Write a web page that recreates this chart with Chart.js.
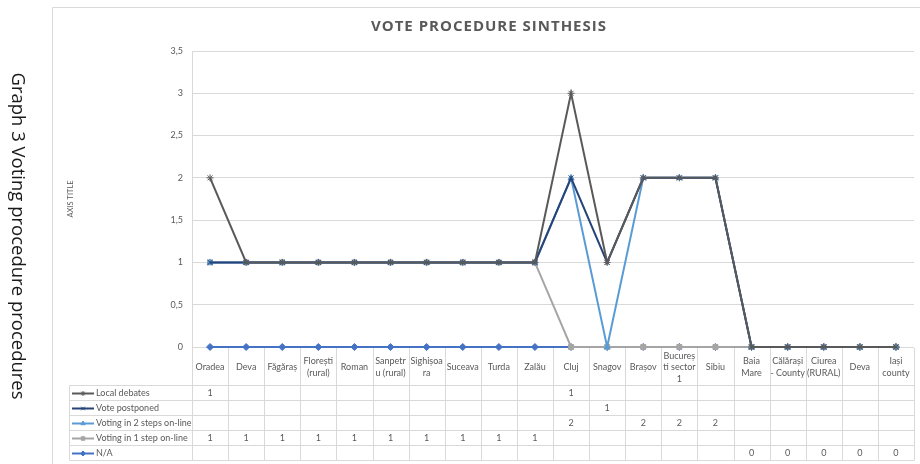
<!DOCTYPE html>
<html><head><meta charset="utf-8">
<script src="https://cdn.jsdelivr.net/npm/chart.js@4.4.1/dist/chart.umd.min.js"></script>
<style>html,body{margin:0;padding:0;background:#fff}#wrap{width:920px;height:464px;position:relative}</style>
</head><body><div id="wrap"><canvas id="c" width="920" height="464"></canvas></div>
<script>
// ---- data ----
const categories = [["Oradea"],["Deva"],["Făgăraș"],["Florești","(rural)"],["Roman"],["Sanpetr","u (rural)"],["Sighișoa","ra"],["Suceava"],["Turda"],["Zalău"],["Cluj"],["Snagov"],["Brașov"],["Bucureș","ti sector","1"],["Sibiu"],["Baia","Mare"],["Călărași","- County"],["Ciurea","(RURAL)"],["Deva"],["Iași","county"]];
const localDebates    = [1,null,null,null,null,null,null,null,null,null,1,null,null,null,null,null,null,null,null,null];
const votePostponed   = [null,null,null,null,null,null,null,null,null,null,null,1,null,null,null,null,null,null,null,null];
const voting2Steps    = [null,null,null,null,null,null,null,null,null,null,2,null,2,2,2,null,null,null,null,null];
const voting1Step     = [1,1,1,1,1,1,1,1,1,1,null,null,null,null,null,null,null,null,null,null];
const notAvailable    = [null,null,null,null,null,null,null,null,null,null,null,null,null,null,null,0,0,0,0,0];
const yTickLabels     = ["0","0,5","1","1,5","2","2,5","3","3,5"];
const chartTitle = "VOTE PROCEDURE SINTHESIS";
const sideCaption = "Graph 3 Voting procedure procedures";
const axisTitle = "AXIS TITLE";

// series in table order (top to bottom); stacked in reverse (last is bottom of stack)
const tableSeries = [
  {label:"Local debates", values: localDebates, color:"#595959", style:"star"},
  {label:"Vote postponed", values: votePostponed, color:"#264478", style:"crossRot"},
  {label:"Voting in 2 steps on-line", values: voting2Steps, color:"#5B9BD5", style:"triangle"},
  {label:"Voting in 1 step on-line", values: voting1Step, color:"#A5A5A5", style:"rect"},
  {label:"N/A", values: notAvailable, color:"#4472C4", style:"rectRot"}
];
const stackSeries = tableSeries.slice().reverse();

const FONT = "Lato";
const TXT = "#595959";
const GRID = "#D9D9D9";

const forwardDraw = {
  id: 'forwardDraw',
  beforeDatasetsDraw(chart) {
    const metas = chart.getSortedVisibleDatasetMetas();
    for (const m of metas) chart._drawDataset(m);
    return false;
  }
};

const decor = {
  id: 'decor',
  afterDraw(chart) {
    const ctx = chart.ctx;
    const area = chart.chartArea;
    const n = categories.length;
    const cw = (area.right - area.left) / n;
    const tableLeft = 69.5;
    const headerBottom = 385.5;
    const rowH = 15;
    const tableBottom = headerBottom + rowH * tableSeries.length;
    ctx.save();
    // frame
    ctx.strokeStyle = GRID; ctx.lineWidth = 1;
    ctx.beginPath();
    ctx.moveTo(52.5, 464); ctx.lineTo(52.5, 7.5); ctx.lineTo(920, 7.5);
    ctx.stroke();
    // table grid
    ctx.beginPath();
    for (let k = 0; k <= n; k++) {
      const xx = Math.round(area.left + k * cw) + 0.5;
      ctx.moveTo(xx, area.bottom + 1); ctx.lineTo(xx, tableBottom);
    }
    for (let r = 0; r <= tableSeries.length; r++) {
      const yy = headerBottom + r * rowH;
      ctx.moveTo(tableLeft, yy); ctx.lineTo(Math.round(area.right) + 0.5, yy);
    }
    ctx.moveTo(tableLeft, headerBottom); ctx.lineTo(tableLeft, tableBottom);
    ctx.stroke();
    // header labels
    ctx.fillStyle = TXT;
    ctx.font = `9px ${FONT}`;
    ctx.textAlign = 'center'; ctx.textBaseline = 'middle';
    const headMid = (area.bottom + headerBottom) / 2 + 1;
    const lh = 11.5;
    categories.forEach((lines, i) => {
      const cx = chart.scales.x.getPixelForValue(i);
      const y0 = headMid - (lines.length - 1) * lh / 2;
      lines.forEach((t, j) => ctx.fillText(t, cx, y0 + j * lh));
    });
    // rows
    tableSeries.forEach((s, r) => {
      const cy = headerBottom + r * rowH + rowH / 2 + 0.5;
      // legend key
      ctx.strokeStyle = s.color; ctx.lineWidth = 2;
      ctx.beginPath(); ctx.moveTo(72, cy); ctx.lineTo(94, cy); ctx.stroke();
      ctx.fillStyle = s.color; ctx.lineWidth = 1;
      Chart.helpers.drawPoint(ctx, {pointStyle: s.style, radius: 2.5, rotation: 0, borderWidth: 1}, 83, cy);
      ctx.fillStyle = TXT;
      ctx.textAlign = 'left';
      ctx.fillText(s.label, 96, cy);
      ctx.textAlign = 'center';
      s.values.forEach((v, i) => {
        if (v === null) return;
        ctx.fillText(String(v), chart.scales.x.getPixelForValue(i), cy);
      });
    });
    // title
    ctx.fillStyle = TXT;
    ctx.font = `bold 15px "Open Sans"`;
    ctx.letterSpacing = '1px';
    ctx.textAlign = 'center'; ctx.textBaseline = 'middle';
    ctx.fillText(chartTitle, 489, 27);
    ctx.letterSpacing = '0px';
    // axis title
    ctx.save();
    ctx.translate(71, 199); ctx.rotate(-Math.PI / 2);
    ctx.font = `7.5px ${FONT}`;
    ctx.fillText(axisTitle, 0, 0);
    ctx.restore();
    // side caption
    ctx.save();
    ctx.translate(17, 236); ctx.rotate(Math.PI / 2);
    ctx.fillStyle = "#1a1a1a";
    ctx.font = `18.5px "Open Sans"`;
    ctx.fillText(sideCaption, 0, 0);
    ctx.restore();
    ctx.restore();
  }
};

new Chart(document.getElementById('c'), {
  type: 'line',
  data: {
    labels: categories.map(c => c.join(' ')),
    datasets: stackSeries.map(s => ({
      label: s.label,
      data: s.values.map(v => v === null ? 0 : v),
      borderColor: s.color,
      backgroundColor: s.color,
      pointStyle: s.style,
      pointRadius: 3.5,
      pointBorderWidth: 1,
      pointHoverRadius: 3.5,
      borderWidth: 2,
      tension: 0,
      fill: false,
      clip: false
    }))
  },
  options: {
    responsive: false,
    animation: false,
    events: [],
    layout: {padding: {left: 0, top: 51, right: 6, bottom: 117}},
    plugins: {legend: {display: false}, tooltip: {enabled: false}, title: {display: false}},
    scales: {
      x: {display: false, offset: true},
      y: {
        stacked: true, min: 0, max: 3.5,
        afterFit(scale) { scale.width = 192; },
        grid: {color: GRID, drawTicks: false},
        border: {display: true, color: GRID},
        ticks: {stepSize: 0.5, padding: 9, color: TXT, font: {family: FONT, size: 9},
          callback: (v, i) => yTickLabels[i]}
      }
    }
  },
  plugins: [forwardDraw, decor]
});
</script></body></html>
